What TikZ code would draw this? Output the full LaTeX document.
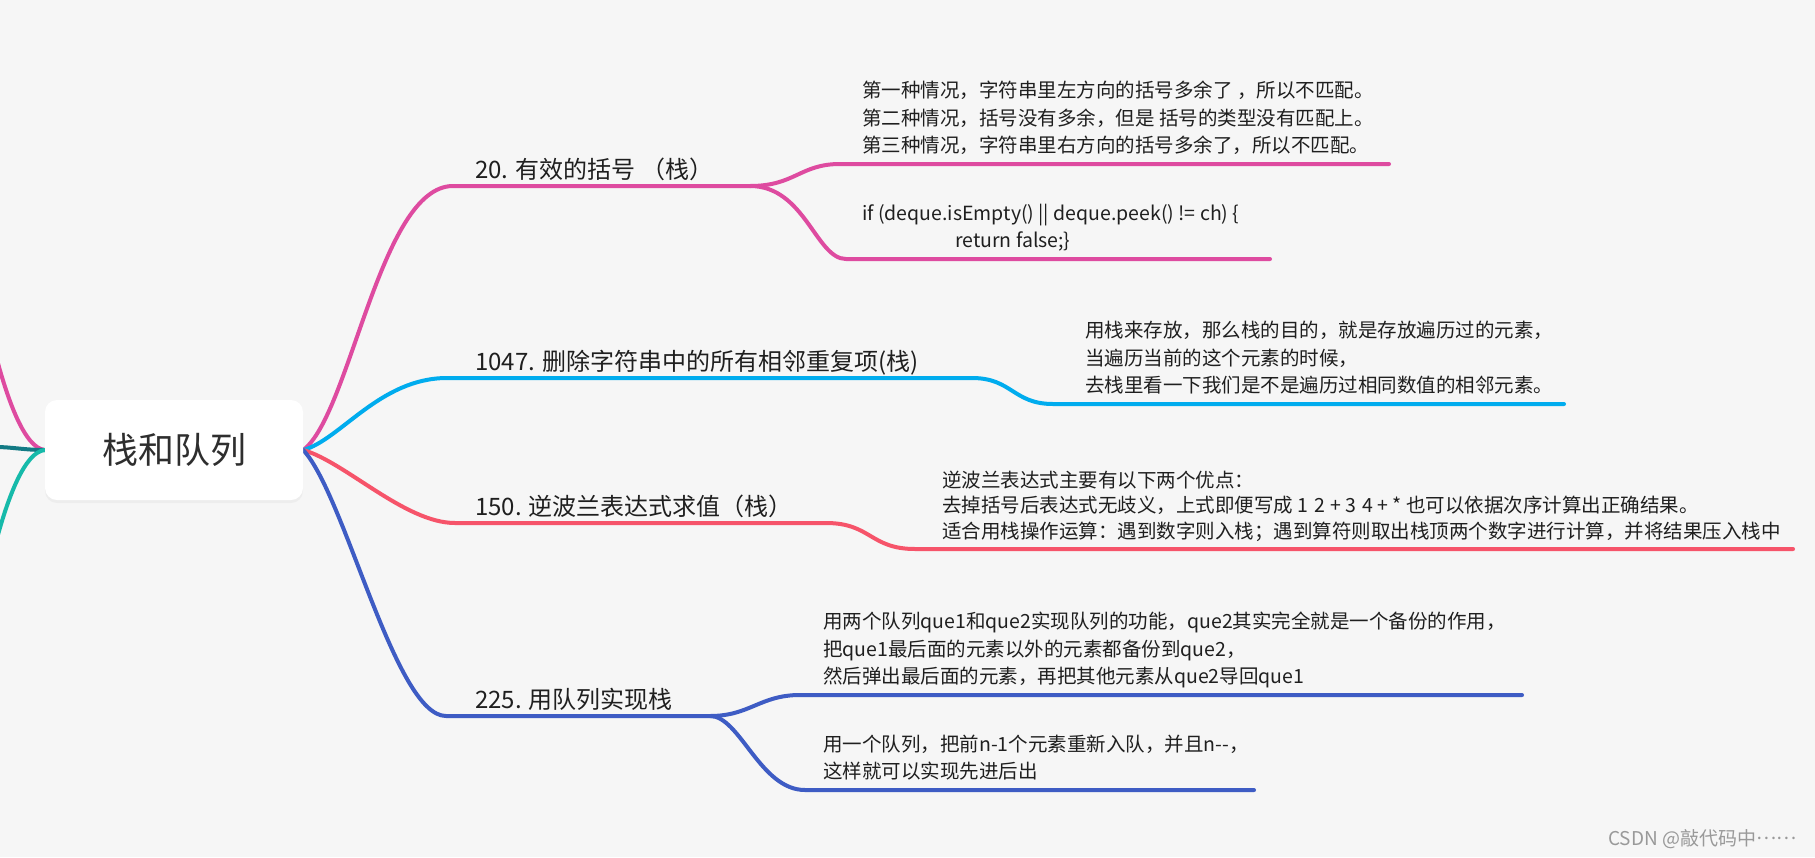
\documentclass[tikz,border=0pt]{standalone}
\usepackage{fontspec}
\newfontfamily\cjk{Noto Sans CJK SC}
\usetikzlibrary{shadows}
\definecolor{paper}{RGB}{246,246,246}
\definecolor{pinkline}{RGB}{222,75,160}
\definecolor{skyline}{RGB}{0,172,238}
\definecolor{redline}{RGB}{246,84,106}
\definecolor{navyline}{RGB}{62,92,196}
\definecolor{darktealline}{RGB}{18,122,132}
\definecolor{tealline}{RGB}{22,186,170}
\pgfdeclarelayer{paperlayer}
\pgfdeclarelayer{wires}
\pgfsetlayers{paperlayer,wires,main}
\begin{document}
\begin{tikzpicture}[
                x=1pt, y=-1pt,
                branch/.style={line width=4pt, line cap=round},
                rootbox/.style={fill=white, rounded corners=12pt, minimum width=258pt, minimum height=100pt,
                    font=\cjk\fontsize{36}{40}\selectfont, text=black!82,
                    drop shadow={opacity=0.07, shadow xshift=0pt, shadow yshift=-3pt}},
                topic/.style={anchor=base west, inner sep=0pt, font=\cjk\fontsize{24}{30}\selectfont, text=black!88},
                note/.style={anchor=south west, inner sep=0pt, align=left, text=black!88,
                    font=\cjk\fontsize{19.5}{27.5}\selectfont, execute at end node=\strut}
                ]
                \useasboundingbox (0,0) rectangle (1815,857);
                \clip (0,0) rectangle (1815,857);
                \begin{pgfonlayer}{paperlayer}
                \fill[paper] (0,0) rectangle (1815,857);
                \end{pgfonlayer}

                % Centre topic
                \node[rootbox] (root) at (174,450) {栈和队列};

                % Branch titles
                \node[topic] (t20) at (475,178) {20. 有效的括号 （栈）};
                \node[topic] (t1047) at (475,370) {1047. 删除字符串中的所有相邻重复项(栈)};
                \node[topic] (t150) at (475,515) {150. 逆波兰表达式求值（栈）};
                \node[topic] (t225) at (475,708) {225. 用队列实现栈};

                % Notes
                \node[note] (n20a) at (862,161) {第一种情况，字符串里左方向的括号多余了 ，所以不匹配。\\第二种情况，括号没有多余，但是 括号的类型没有匹配上。\\第三种情况，字符串里右方向的括号多余了，所以不匹配。};
                \node[note] (n20b) at (862,256) {if (deque.isEmpty() || deque.peek() != ch) \{\\\hspace*{93pt}return false;\}};
                \node[note] (n1047) at (1085,401) {用栈来存放，那么栈的目的，就是存放遍历过的元素，\\当遍历当前的这个元素的时候，\\去栈里看一下我们是不是遍历过相同数值的相邻元素。};
                \node[note, font=\cjk\fontsize{19.5}{25.5}\selectfont] (n150) at (942,546) {逆波兰表达式主要有以下两个优点：\\去掉括号后表达式无歧义，上式即便写成 1\,\,2 + 3\,\,4 + * 也可以依据次序计算出正确结果。\\适合用栈操作运算：遇到数字则入栈；遇到算符则取出栈顶两个数字进行计算，并将结果压入栈中};
                \node[note] (n225a) at (823,692) {用两个队列que1和que2实现队列的功能，que2其实完全就是一个备份的作用，\\把que1最后面的元素以外的元素都备份到que2，\\然后弹出最后面的元素，再把其他元素从que2导回que1};
                \node[note] (n225b) at (823,787) {用一个队列，把前n-1个元素重新入队，并且n-{}-，\\这样就可以实现先进后出};

                \node[anchor=base east, font=\cjk\fontsize{19}{22}\selectfont, text=black!40] (mark) at (1800,845) {CSDN @敲代码中\raisebox{0.3em}{……}};

                % Line ends
                \coordinate (lpink) at (-4,356);
                \coordinate (ldark) at (-4,447);
                \coordinate (lteal) at (-4,542);
                \coordinate (p20a) at (453,186);
                \coordinate (p20b) at (750,186);
                \coordinate (p20c) at (840,164);
                \coordinate (p20d) at (1389,164);
                \coordinate (p20e) at (846,259);
                \coordinate (p20f) at (1270,259);
                \coordinate (p1047a) at (447,378);
                \coordinate (p1047b) at (972,378);
                \coordinate (p1047c) at (1053,404);
                \coordinate (p1047d) at (1564,404);
                \coordinate (p150a) at (455,523);
                \coordinate (p150b) at (826,523);
                \coordinate (p150c) at (915,549);
                \coordinate (p150d) at (1793,549);
                \coordinate (p225a) at (446,716);
                \coordinate (p225b) at (710,716);
                \coordinate (p225c) at (800,695);
                \coordinate (p225d) at (1522,695);
                \coordinate (p225e) at (805,790);
                \coordinate (p225f) at (1254,790);

                \begin{pgfonlayer}{wires}
                % left side runs off the page
                \draw[branch, pinkline] (root.west) .. controls +(-20,-2) and +(12,45) .. (lpink);
                \draw[branch, darktealline] (root.west) .. controls +(-20,0) and +(15,0) .. (ldark);
                \draw[branch, tealline] (root.west) .. controls +(-20,2) and +(12,-45) .. (lteal);

                % right side
                \draw[branch, pinkline] (root.east) .. controls +(47,-35) and +(-73,0) .. (p20a) -- (p20b);
                \draw[branch, pinkline] (p20b) .. controls +(45,0) and +(-40,0) .. (p20c) -- (p20d);
                \draw[branch, pinkline] (p20b) .. controls +(55,0) and +(-30,0) .. (p20e) -- (p20f);
                \draw[branch, skyline] (root.east) .. controls +(37,-10) and +(-67,0) .. (p1047a) -- (p1047b)
                    .. controls +(40,0) and +(-40,0) .. (p1047c) -- (p1047d);
                \draw[branch, redline] (root.east) .. controls +(42,12) and +(-50,0) .. (p150a) -- (p150b)
                    .. controls +(45,0) and +(-45,0) .. (p150c) -- (p150d);
                \draw[branch, navyline] (root.east) .. controls +(42,45) and +(-51,0) .. (p225a) -- (p225b);
                \draw[branch, navyline] (p225b) .. controls +(40,0) and +(-40,0) .. (p225c) -- (p225d);
                \draw[branch, navyline] (p225b) .. controls +(30,0) and +(-45,0) .. (p225e) -- (p225f);
                \end{pgfonlayer}
            \end{tikzpicture}
\end{document}
